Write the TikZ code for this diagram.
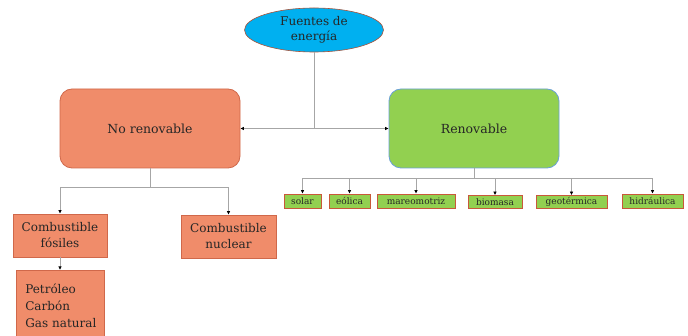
\documentclass[tikz,border=0pt]{standalone}
\usepackage{fontspec}
\setmainfont{DejaVu Serif}
\usetikzlibrary{shapes.geometric,arrows.meta}
\definecolor{cyanf}{HTML}{00B0F0}
\definecolor{salmon}{HTML}{F08C6A}
\definecolor{salmonb}{HTML}{D0684A}
\definecolor{greenf}{HTML}{92D050}
\definecolor{blueb}{HTML}{6AA0D8}
\definecolor{smallb}{HTML}{C8583A}
\definecolor{linec}{HTML}{A6A6A6}
\definecolor{txt}{HTML}{262626}
\tikzset{
  bigbox/.style={rectangle,rounded corners=12pt,minimum width=180pt,minimum height=79pt,font=\fontsize{12.5}{14}\selectfont,line width=0.8pt,text=txt},
  midbox/.style={rectangle,fill=salmon,draw=salmonb,line width=0.6pt,align=center,font=\fontsize{12}{16}\selectfont,inner sep=0pt,text=txt},
  leaf/.style={rectangle,fill=greenf,draw=smallb,line width=0.8pt,font=\fontsize{9}{10}\selectfont,inner sep=0pt,minimum height=14pt,text=txt},
  conn/.style={draw=linec,line width=0.9pt},
  arr/.style={conn,-{Latex[length=3.5pt,width=3.5pt,black]}}
}
\begin{document}
\begin{tikzpicture}[x=1pt,y=-1pt]
\useasboundingbox[fill=white] (0,0) rectangle (688,336);
\node[ellipse,fill=cyanf,draw=salmonb!80!black,line width=0.6pt,minimum width=139pt,minimum height=44pt,inner sep=0pt,align=center,font=\fontsize{12}{15}\selectfont,text=txt] (top) at (314,30) {Fuentes de\\energía};
\node[bigbox,fill=salmon,draw=salmonb] (nr) at (150,128.5) {No renovable};
\node[bigbox,fill=greenf,draw=blueb,minimum width=170pt] (r) at (474,128.5) {Renovable};
\node[midbox,minimum width=94pt,minimum height=43pt] (cf) at (60,235.5) {Combustible\\fósiles};
\node[midbox,minimum width=95pt,minimum height=43pt] (cn) at (228.5,236.5) {Combustible\\nuclear};
\node[midbox,minimum width=88pt,minimum height=70pt,align=left,anchor=north west,text width=80pt,inner sep=0pt,font=\fontsize{12}{17}\selectfont] (pet) at (16,270) {\hspace*{5pt}Petróleo\\\hspace*{5pt}Carbón\\\hspace*{5pt}Gas natural};
\node[leaf,minimum width=37pt] (s1) at (302.5,201) {solar};
\node[leaf,minimum width=41pt] (s2) at (349.5,201) {eólica};
\node[leaf,minimum width=78pt] (s3) at (416,201) {mareomotriz};
\node[leaf,minimum width=54pt,minimum height=13pt] (s4) at (495,202) {biomasa};
\node[leaf,minimum width=71pt,minimum height=13pt] (s5) at (571.5,202) {geotérmica};
\node[leaf,minimum width=61pt] (s6) at (652.5,201) {hidráulica};
% top connectors
\coordinate (j) at (top.south |- nr.east);
\draw[conn] (top.south) -- (j);
\draw[arr] (j) -- (nr.east);
\draw[arr] (j) -- (r.west);
% no renovable tree
\coordinate (nrj) at (150,187);
\draw[conn] (nr.south) -- (nrj);
\draw[arr] (nrj) -| (cf.north);
\draw[arr] (nrj) -| (cn.north);
\draw[arr] (cf.south) -- (pet.north -| cf.south);
% renovable tree
\coordinate (rj) at (474,178);
\draw[conn] (r.south) -- (rj);
\foreach \n in {s1,s2,s3,s4,s5,s6}{
  \draw[arr] (rj) -| (\n.north);
}
\end{tikzpicture}
\end{document}
